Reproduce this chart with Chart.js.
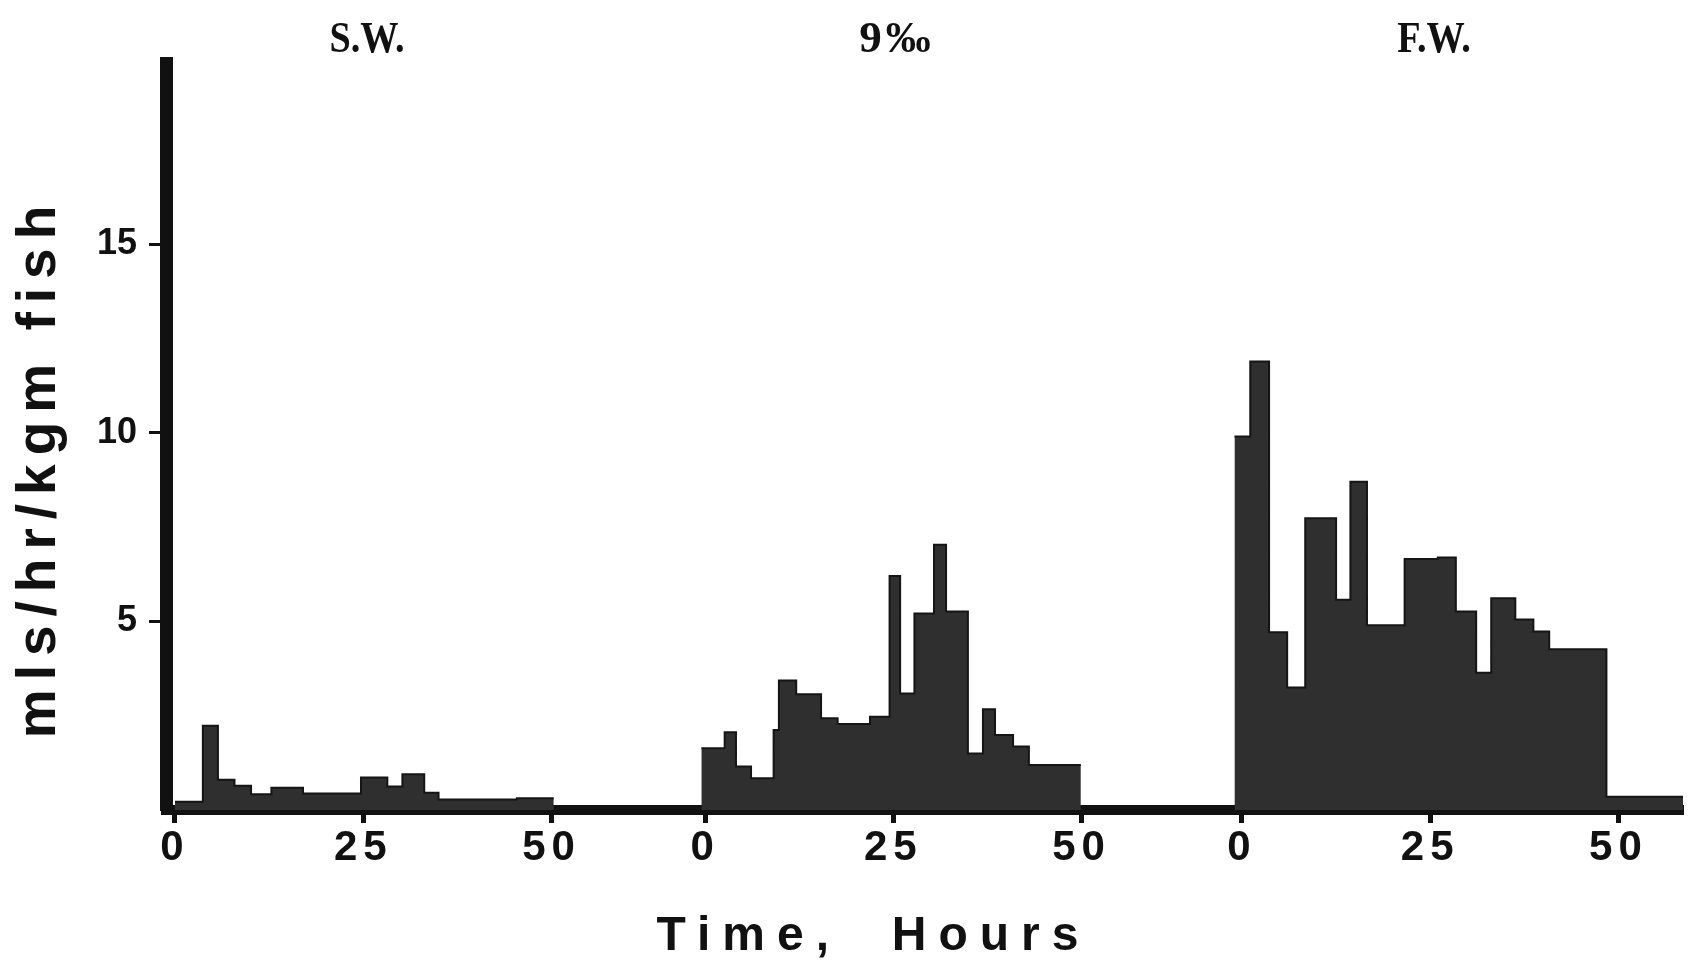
<!DOCTYPE html>
<html>
<head>
<meta charset="utf-8">
<script src="https://cdn.jsdelivr.net/npm/chart.js@4.4.1/dist/chart.umd.min.js"></script>
<style>
  html, body { margin: 0; padding: 0; background: #ffffff; }
  canvas { display: block; }
</style>
</head>
<body>
<canvas id="c" width="1690" height="968"></canvas>
<script>
// ---- data ----
const panelTitles = ['S.W.', '9\u2030', 'F.W.'];
// start of each panel on the continuous time axis (hours)
const panelOffsets = [0, 70.4, 141.7];
const xTickHours = [0, 25, 50];
const xTickLabels = ['0', '25', '50'];
const yTickValues = [5, 10, 15];

// S.W. : bin edges (hours) and values (mls/hr/kgm fish)
const swEdges  = [0, 3.7, 5.7, 7.9, 10.1, 12.8, 17, 24.7, 28.2, 30.2, 33.1, 35, 45.4, 50.3];
const swValues = [0.22, 2.23, 0.8, 0.64, 0.42, 0.59, 0.44, 0.86, 0.62, 0.95, 0.46, 0.28, 0.31];

// 9 per mille
const midEdges  = [-0.5, 2.6, 4.1, 6.1, 9.1, 9.8, 12.1, 15.4, 17.6, 21.9, 24.5, 25.9, 27.8, 30.4, 32, 34.9, 36.9, 38.5, 40.9, 43, 49.9];
const midValues = [1.64, 2.06, 1.15, 0.84, 2.12, 3.43, 3.07, 2.43, 2.28, 2.47, 6.2, 3.09, 5.21, 7.03, 5.26, 1.5, 2.67, 1.99, 1.68, 1.19];

// F.W.
const fwEdges  = [-1, 1.1, 3.6, 6.0, 8.4, 12.5, 14.4, 16.6, 21.6, 26, 28.4, 31.1, 33.1, 36.3, 38.7, 40.8, 48.4, 58.8];
const fwValues = [9.9, 11.89, 4.71, 3.25, 7.73, 5.57, 8.7, 4.9, 6.65, 6.69, 5.26, 3.64, 5.61, 5.05, 4.73, 4.26, 0.35];

const panels = [
  { edges: swEdges, values: swValues },
  { edges: midEdges, values: midValues },
  { edges: fwEdges, values: fwValues }
];

// ---- styles ----
const INK = '#111111';
const FILL = '#2f2f2f';
const titleScaleX = [0.85, 1.0, 0.85];
const titleSpacing = ['0px', '4px', '0px'];

function toPoints(p, offset) {
  return p.edges.map((e, i) => ({ x: offset + e, y: p.values[Math.min(i, p.values.length - 1)] }));
}

const datasets = panels.map((p, i) => ({
  label: panelTitles[i],
  data: toPoints(p, panelOffsets[i]),
  stepped: 'before',
  fill: 'origin',
  backgroundColor: FILL,
  borderColor: '#151515',
  borderWidth: 2,
  pointRadius: 0,
  tension: 0
}));

const xTickPositions = [];
const xTickText = [];
panelOffsets.forEach(off => {
  xTickHours.forEach((h, j) => { xTickPositions.push(off + h); xTickText.push(xTickLabels[j]); });
});

function wrapDraw(scale, name, spacing, dx, dy) {
  if (scale['__wrapped_' + name]) return;
  const orig = scale[name];
  scale[name] = function (...args) {
    const ctx = this.ctx;
    ctx.save();
    ctx.letterSpacing = spacing;
    ctx.translate(dx, dy);
    orig.apply(this, args);
    ctx.restore();
  };
  scale['__wrapped_' + name] = true;
}

const stylePlugin = {
  id: 'stylePlugin',
  afterLayout(chart) {
    wrapDraw(chart.scales.x, 'drawLabels', '6px', 0, 0);
    wrapDraw(chart.scales.x, 'drawTitle', '12px', -51, 0);
    wrapDraw(chart.scales.y, 'drawTitle', '9px', 0, 31);
  },
  afterDraw(chart) {
    const ctx = chart.ctx;
    const xs = chart.scales.x;
    ctx.save();
    ctx.font = 'bold 45px "Liberation Serif"';
    ctx.fillStyle = INK;
    ctx.textAlign = 'center';
    ctx.textBaseline = 'alphabetic';
    panelTitles.forEach((t, i) => {
      const x = xs.getPixelForValue(panelOffsets[i] + 25.5);
      ctx.save();
      ctx.letterSpacing = titleSpacing[i];
      ctx.translate(x, 52);
      ctx.scale(titleScaleX[i], 1);
      ctx.fillText(t, 0, 0);
      ctx.restore();
    });
    ctx.restore();
  }
};

new Chart(document.getElementById('c'), {
  type: 'line',
  data: { datasets },
  options: {
    responsive: false,
    devicePixelRatio: 1,
    animation: false,
    layout: { padding: { left: 0, top: 63, right: 7, bottom: 0 } },
    plugins: { legend: { display: false }, tooltip: { enabled: false } },
    elements: { line: { borderJoinStyle: 'miter' } },
    scales: {
      x: {
        type: 'linear',
        min: -1.195,
        max: 200.27,
        afterFit(s) { s.height = 158; },
        afterBuildTicks(s) { s.ticks = xTickPositions.map(v => ({ value: v })); },
        grid: { display: true, drawOnChartArea: false, drawTicks: true, tickLength: 13, tickWidth: 5, tickColor: INK, lineWidth: 1, color: INK },
        border: { display: true, width: 10, color: INK },
        ticks: {
          autoSkip: false, maxRotation: 0, minRotation: 0, padding: 0,
          color: INK,
          font: { family: '"Liberation Sans", Arial, sans-serif', size: 42, weight: 'bold' },
          callback: (v, i) => xTickText[i]
        },
        title: {
          display: true,
          text: 'Time,  Hours',
          color: INK,
          font: { family: '"Liberation Sans", Arial, sans-serif', size: 48, weight: 'bold' },
          padding: { top: 0, bottom: 2 }
        }
      },
      y: {
        type: 'linear',
        min: 0,
        max: 19.8,
        afterFit(s) { s.width = 166; },
        afterBuildTicks(s) { s.ticks = yTickValues.map(v => ({ value: v })); },
        grid: { display: true, drawOnChartArea: false, drawTicks: true, tickLength: 17, tickWidth: 3, tickColor: INK, lineWidth: 1, color: INK },
        border: { display: true, width: 13, color: INK },
        ticks: {
          padding: 12,
          color: INK,
          font: { family: '"Liberation Sans", Arial, sans-serif', size: 36, weight: 'bold' }
        },
        title: {
          display: true,
          text: 'mls/hr/kgm fish',
          color: INK,
          font: { family: '"Liberation Sans", Arial, sans-serif', size: 55, weight: 'bold' },
          padding: { top: 7, bottom: 0 }
        }
      }
    }
  },
  plugins: [stylePlugin]
});
</script>
</body>
</html>
